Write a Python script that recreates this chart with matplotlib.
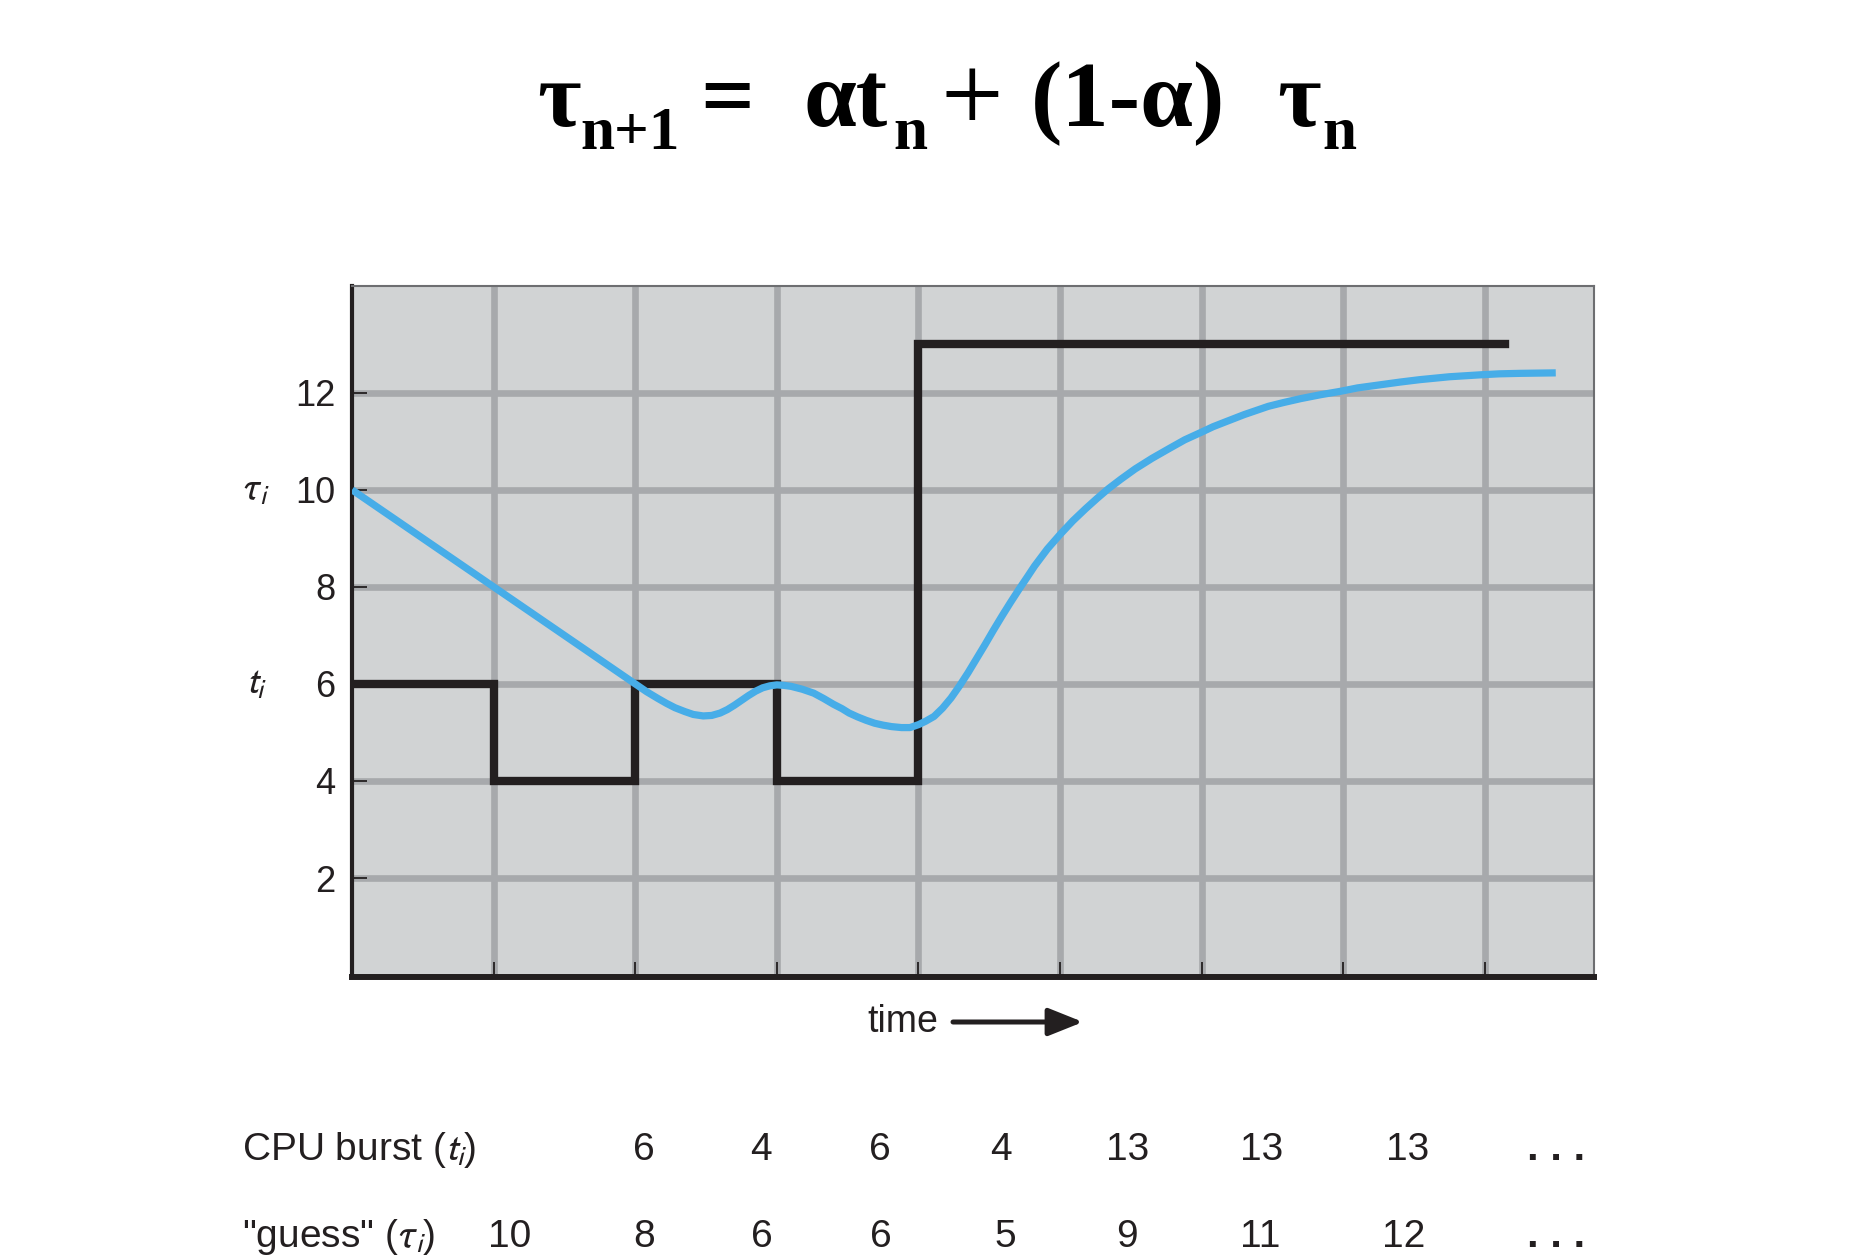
import numpy as np
import matplotlib.pyplot as plt

# Estimation exponentielle de la prochaine rafale CPU (tau) a partir des rafales mesurees (t)

plt.rcParams['font.family'] = ['Liberation Sans', 'DejaVu Sans']

# Donnees
burst = [6, 4, 6, 4, 13, 13, 13]
guess = [10, 8, 6, 6, 5, 9, 11, 12]
burst_end = 8.14
y_ticks = [2, 4, 6, 8, 10, 12]
x_ticks = [1, 2, 3, 4, 5, 6, 7, 8]

# courbe tau
tau_x = [0.00, 0.50, 1.00, 1.50, 2.00, 2.08, 2.16, 2.22, 2.28, 2.35, 2.41, 2.48,
         2.54, 2.60, 2.65, 2.70, 2.75, 2.80, 2.85, 2.90, 2.95, 3.00, 3.05, 3.10,
         3.18, 3.26, 3.33, 3.40, 3.46, 3.51, 3.57, 3.63, 3.69, 3.75, 3.81, 3.88,
         3.94, 4.00, 4.05, 4.11, 4.17, 4.23, 4.29, 4.35, 4.41, 4.47, 4.53, 4.59,
         4.65, 4.71, 4.77, 4.82, 4.91, 5.00, 5.09, 5.18, 5.26, 5.34, 5.43, 5.53,
         5.65, 5.77, 5.88, 6.00, 6.08, 6.15, 6.30, 6.47, 6.58, 6.70, 6.84, 6.98,
         7.10, 7.25, 7.40, 7.54, 7.75, 7.97, 8.10, 8.25, 8.50]
tau_y = [10.00, 9.00, 8.00, 7.00, 6.00, 5.84, 5.70, 5.60, 5.51, 5.43, 5.37, 5.34,
         5.35, 5.40, 5.47, 5.56, 5.66, 5.76, 5.85, 5.92, 5.96, 5.98, 5.97, 5.95,
         5.89, 5.81, 5.70, 5.58, 5.49, 5.40, 5.32, 5.25, 5.19, 5.15, 5.12, 5.10,
         5.10, 5.16, 5.23, 5.33, 5.50, 5.71, 5.96, 6.23, 6.52, 6.81, 7.11, 7.40,
         7.68, 7.95, 8.21, 8.43, 8.78, 9.08, 9.36, 9.61, 9.82, 10.02, 10.22, 10.43,
         10.65, 10.85, 11.03, 11.19, 11.30, 11.38, 11.55, 11.72, 11.80, 11.88, 11.96, 12.03,
         12.10, 12.16, 12.22, 12.27, 12.33, 12.37, 12.39, 12.40, 12.41]

W, H = 1874, 1260
fig = plt.figure(figsize=(W / 100, H / 100), dpi=100)
ax = fig.add_axes([352 / W, 1 - 977 / H, (1594 - 352) / W, (977 - 286) / H])

ax.set_facecolor('#d1d3d4')
ax.set_xlim(0, 8.77)
ax.set_ylim(-0.04, 14.2)
ax.set_xticks(x_ticks)
ax.set_xticklabels([])
ax.set_yticks(y_ticks)
ax.tick_params(direction='in', length=11, width=1.3, color='#231f20',
               labelsize=26, pad=12, labelcolor='#231f20')
ax.grid(True, color='#a7a9ac', lw=4.8, zorder=0)
ax.set_axisbelow(True)

for s in ['top', 'right']:
    ax.spines[s].set_color('#6d6e71')
    ax.spines[s].set_linewidth(1.5)
ax.spines['left'].set_linewidth(3.0)
ax.spines['bottom'].set_linewidth(4.3)
ax.spines['left'].set_color('#231f20')
ax.spines['bottom'].set_color('#231f20')

x_step = list(range(len(burst))) + [burst_end]
y_step = burst + [burst[-1]]
ax.plot(x_step, y_step, drawstyle='steps-post', color='#231f20', lw=6,
        solid_joinstyle='miter', zorder=3)
ax.plot(tau_x, tau_y, color='#47ade8', lw=5.2, solid_capstyle='butt',
        solid_joinstyle='round', zorder=4)

# etiquettes tau_i et t_i
trans = ax.get_yaxis_transform()
ax.text(-0.077, 10, r'$\tau_i$', transform=trans, ha='center', va='center',
        fontsize=27, math_fontfamily='stixsans', color='#231f20')
ax.text(-0.077, 6, r'$t_i$', transform=trans, ha='center', va='center',
        fontsize=27, math_fontfamily='stixsans', color='#231f20')

# titre (morceaux places un a un)
serif = ['Liberation Serif', 'DejaVu Serif']
main_y = 1 - 126 / H
sub_y = 1 - 149 / H
title_main = [('τ', 537), ('=', 700), ('αt', 804), ('(1-α)', 1031), ('τ', 1277)]
title_sub = [('n+1', 580), ('n', 893), ('n', 1322)]
for s, xp in title_main:
    fig.text(xp / W, main_y, s, ha='left', va='baseline', fontsize=68,
             fontweight='bold', family=serif, color='black')
for s, xp in title_sub:
    fig.text(xp / W, sub_y, s, ha='left', va='baseline', fontsize=44,
             fontweight='bold', family=serif, color='black')
fig.text(941 / W, 1 - 131 / H, '+', ha='left', va='baseline', fontsize=80,
         family=serif, color='black')

# time ->
fig.text(938 / W, 1 - 1032 / H, 'time', ha='right', va='baseline', fontsize=27,
         color='#231f20')
ax.annotate('', xy=(1083 / W, 1 - 1022 / H), xytext=(953 / W, 1 - 1022 / H),
            xycoords='figure fraction', textcoords='figure fraction',
            arrowprops=dict(arrowstyle='-|>,head_length=0.7,head_width=0.28',
                            lw=3.6, color='#231f20', mutation_scale=30,
                            shrinkA=0, shrinkB=0))

# tableau sous le graphique
burst_pos = [644, 761, 880, 1001, 1128, 1262, 1408]
guess_pos = [510, 644, 762, 881, 1005, 1127, 1260, 1404]
row1 = 1 - 1160 / H
row2 = 1 - 1247 / H
fig.text(242 / W, row1, r'CPU burst ($t_i$)', ha='left', va='baseline', fontsize=28,
         math_fontfamily='stixsans', color='#231f20')
fig.text(242 / W, row2, r'"guess" ($\tau_i$)', ha='left', va='baseline', fontsize=28,
         math_fontfamily='stixsans', color='#231f20')
for v, p in zip(burst, burst_pos):
    fig.text(p / W, row1, str(v), ha='center', va='baseline', fontsize=28, color='#231f20')
for v, p in zip(guess, guess_pos):
    fig.text(p / W, row2, str(v), ha='center', va='baseline', fontsize=28, color='#231f20')
for r in [row1, row2]:
    fig.text(1556 / W, r, '. . .', ha='center', va='baseline', fontsize=30,
             fontweight='bold', color='#231f20')

fig.savefig('out.png', dpi=100, facecolor='white')
